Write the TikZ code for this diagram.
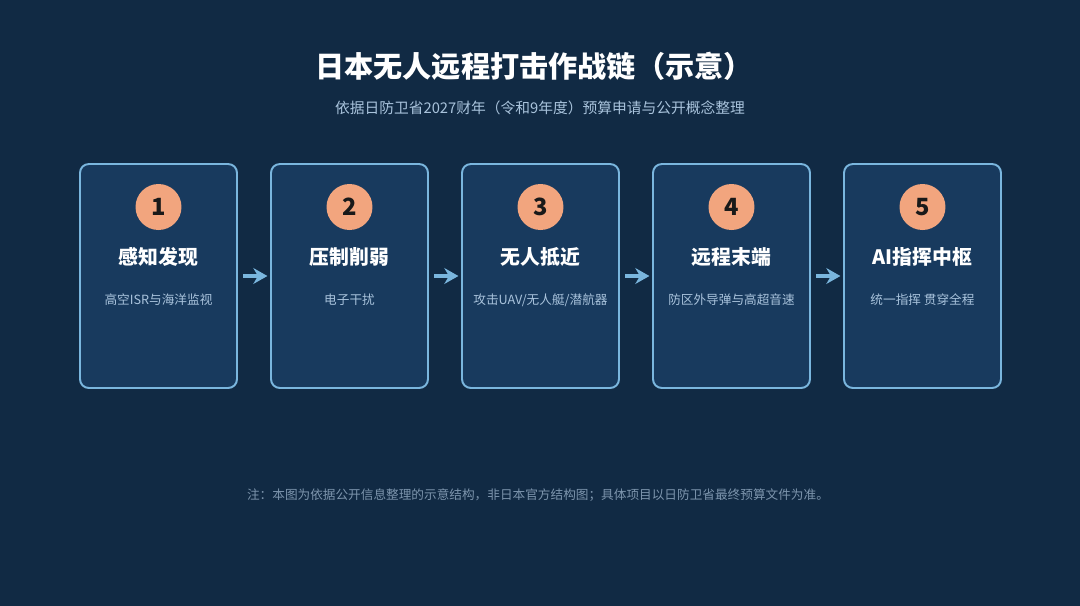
\documentclass[tikz,border=0pt]{standalone}
\usepackage{fontspec}
\setmainfont{Noto Sans CJK SC}
\usetikzlibrary{arrows.meta, positioning}

\definecolor{bgnavy}{HTML}{112A44}
\definecolor{boxnavy}{HTML}{183A5E}
\definecolor{edgeblue}{HTML}{7AB6DE}
\definecolor{badge}{HTML}{F2A57E}
\definecolor{softtext}{HTML}{A9C3DC}
\definecolor{notetext}{HTML}{7D95AD}

\begin{document}
\begin{tikzpicture}[x=0.02cm, y=-0.02cm,
  stage/.style={rectangle, rounded corners=5pt, draw=edgeblue, line width=1.1pt, fill=boxnavy, minimum width=3.14cm, minimum height=4.48cm},
  numdot/.style={circle, fill=badge, minimum size=0.92cm, inner sep=0pt, font=\fontsize{13.5}{14}\selectfont\bfseries, text=black!90},
  stagename/.style={font=\fontsize{11.3}{13}\selectfont\bfseries, text=white},
  stagenote/.style={font=\fontsize{7.2}{9}\selectfont, text=softtext},
  arr/.style={-{Stealth[length=8pt, width=9pt]}, line width=2pt, draw=edgeblue, shorten <=3pt, shorten >=1.5pt}
]

\fill[bgnavy] (0,0) rectangle (1080,606);
\useasboundingbox (0,0) rectangle (1080,606);

% heading
\node[font=\fontsize{16.6}{18}\selectfont\bfseries, text=white] (title) at (534,66) {日本无人远程打击作战链（示意）};
\node[font=\fontsize{8.4}{10}\selectfont, text=softtext] (subtitle) at (540,108) {依据日防卫省2027财年（令和9年度）预算申请与公开概念整理};

% stages
\node[stage] (box1) at (158.5,276) {};
\node[stage] (box2) at (349.5,276) {};
\node[stage] (box3) at (540.5,276) {};
\node[stage] (box4) at (731.5,276) {};
\node[stage] (box5) at (922.5,276) {};

\node[numdot] (num1) at (158.5,207) {1};
\node[numdot] (num2) at (349.5,207) {2};
\node[numdot] (num3) at (540.5,207) {3};
\node[numdot] (num4) at (731.5,207) {4};
\node[numdot] (num5) at (922.5,207) {5};

\node[stagename] (name1) at (158.5,257) {感知发现};
\node[stagename] (name2) at (349.5,257) {压制削弱};
\node[stagename] (name3) at (540.5,257) {无人抵近};
\node[stagename] (name4) at (731.5,257) {远程末端};
\node[stagename] (name5) at (922.5,257) {AI指挥中枢};

\node[stagenote] (desc1) at (158.5,300) {高空ISR与海洋监视};
\node[stagenote] (desc2) at (349.5,300) {电子干扰};
\node[stagenote] (desc3) at (540.5,300) {攻击UAV/无人艇/潜航器};
\node[stagenote] (desc4) at (731.5,300) {防区外导弹与高超音速};
\node[stagenote] (desc5) at (922.5,300) {统一指挥 贯穿全程};

\draw[arr] (box1) -- (box2);
\draw[arr] (box2) -- (box3);
\draw[arr] (box3) -- (box4);
\draw[arr] (box4) -- (box5);

% footnote
\node[font=\fontsize{7.2}{9}\selectfont, text=notetext] (note) at (538,495) {注：本图为依据公开信息整理的示意结构，非日本官方结构图；具体项目以日防卫省最终预算文件为准。};

\end{tikzpicture}
\end{document}
